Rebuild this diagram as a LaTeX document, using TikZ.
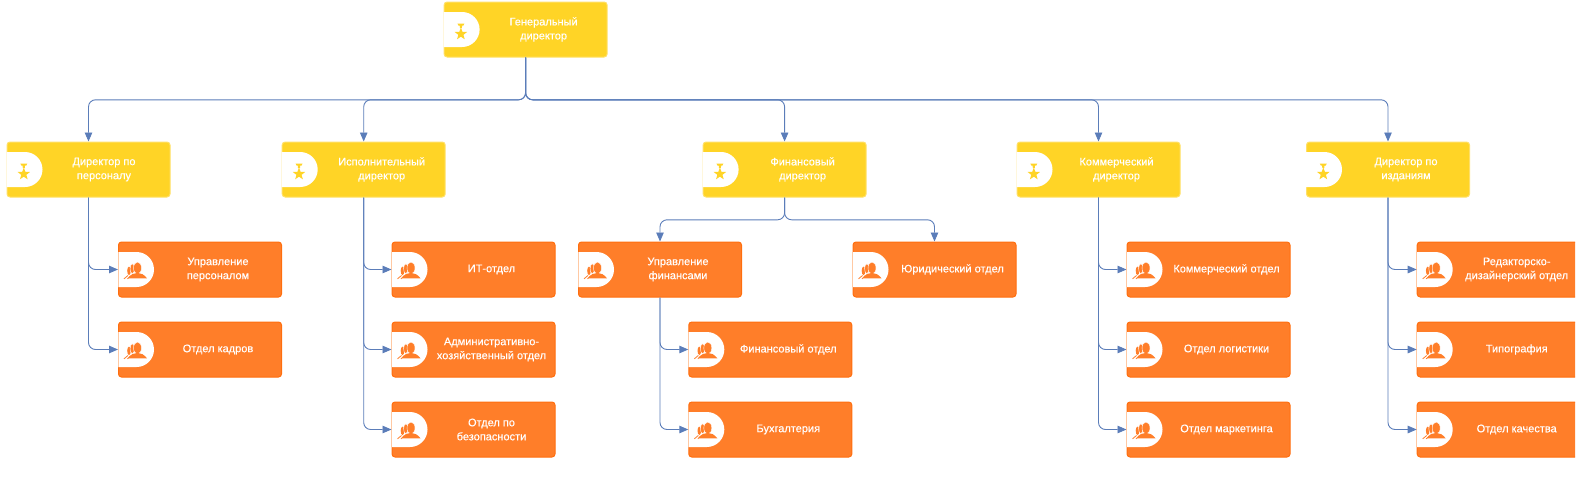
\documentclass[tikz,border=0pt]{standalone}
\usepackage{fontspec}
\setmainfont[FakeBold=0.22]{Liberation Sans}
\usetikzlibrary{arrows.meta}

\definecolor{gold}{HTML}{FFD426}
\definecolor{goldedge}{HTML}{FFE067}
\definecolor{tangerine}{HTML}{FF7E29}
\definecolor{tangerineedge}{HTML}{FF6E0E}
\definecolor{peach}{HTML}{FFC9A3}
\definecolor{linkblue}{HTML}{5B7DB9}

\newcommand{\lbl}[2][36pt]{\hspace{#1}\parbox{127pt}{\centering #2}}

\tikzset{
  card/.style={rectangle,rounded corners=3pt,minimum width=163pt,minimum height=55pt,inner sep=0pt,
    text=white,font=\fontsize{11}{14}\selectfont,line width=1pt},
  head/.style={card,fill=gold,draw=goldedge},
  dept/.style={card,fill=tangerine,draw=tangerineedge},
  link/.style={draw=linkblue,line width=0.9pt,rounded corners=7pt,-{Triangle[length=9pt,width=7.5pt]}},
  medal/.pic={
    \fill[gold] (-3.5,-10.5) -- (3.5,-10.5) -- (2.5,-8.5) -- (1.2,-8.5) -- (1,-6) -- (-1,-6) -- (-1.2,-8.5) -- (-2.5,-8.5) -- cycle;
    \fill[gold] (90:6.5pt) -- (126:2.7pt) -- (162:6.5pt) -- (198:2.7pt) -- (234:6.5pt) -- (270:2.7pt)
      -- (306:6.5pt) -- (342:2.7pt) -- (18:6.5pt) -- (54:2.7pt) -- cycle;
  },
  people/.pic={
    \fill[tangerine] (11,1.3) ellipse (1.8 and 4.2);
    \filldraw[fill=tangerine,draw=white,line width=0.4pt] (14.3,-0.8) ellipse (2.2 and 4.9);
    \filldraw[fill=tangerine,draw=white,line width=0.4pt] (19.5,-1.5) ellipse (4 and 6);
    \fill[tangerine] (10,8.8) .. controls (13,4.5) and (16,3.4) .. (19.5,3.4) .. controls (23,3.4) and (26,5) .. (29,8.8) -- cycle;
    \draw[tangerine,line width=0.8pt] (6,9.3) -- (10,6) (9.5,9.3) -- (12.5,6.5);
  }
}

\begin{document}
\begin{tikzpicture}[x=1pt,y=-1pt]
  \path[use as bounding box] (0,0) rectangle (1578,477);
  \clip (0,0) rectangle (1575,477);

  % directors
  \node[head] (gendir) at (525.6,29.5) {\lbl{Генеральный\\директор}};
  \node[head] (dirhr) at (88.5,169.5) {\lbl[31pt]{Директор по\\персоналу}};
  \node[head] (direxec) at (363.7,169.5) {\lbl{Исполнительный\\директор}};
  \node[head] (dirfin) at (784.6,169.5) {\lbl{Финансовый\\директор}};
  \node[head] (dircom) at (1098.5,169.5) {\lbl{Коммерческий\\директор}};
  \node[head] (dirpub) at (1388,169.5) {\lbl{Директор по\\изданиям}};

  % departments
  \node[dept] (hrmgmt) at (200,269.5) {\lbl{Управление\\персоналом}};
  \node[dept] (hrstaff) at (200,349.5) {\lbl{Отдел кадров}};
  \node[dept] (itdept) at (473.5,269.5) {\lbl{ИТ-отдел}};
  \node[dept] (admin) at (473.5,349.5) {\lbl{Административно-\\хозяйственный отдел}};
  \node[dept] (safety) at (473.5,429.5) {\lbl{Отдел по\\безопасности}};
  \node[dept] (finmgmt) at (660,269.5) {\lbl{Управление\\финансами}};
  \node[dept] (legal) at (934.5,269.5) {\lbl{Юридический отдел}};
  \node[dept] (findept) at (770.3,349.5) {\lbl{Финансовый отдел}};
  \node[dept] (account) at (770.3,429.5) {\lbl{Бухгалтерия}};
  \node[dept] (comdept) at (1208.5,269.5) {\lbl{Коммерческий отдел}};
  \node[dept] (logist) at (1208.5,349.5) {\lbl{Отдел логистики}};
  \node[dept] (market) at (1208.5,429.5) {\lbl{Отдел маркетинга}};
  \node[dept] (editor) at (1498.7,269.5) {\lbl{Редакторско-\\дизайнерский отдел}};
  \node[dept] (print) at (1498.7,349.5) {\lbl{Типография}};
  \node[dept] (quality) at (1498.7,429.5) {\lbl{Отдел качества}};

  % tabs and icons
  \foreach \n in {gendir,dirhr,direxec,dirfin,dircom,dirpub} {
    \fill[white] (\n.west) ++(0,-17.5) -- ++(18.5,0) arc[start angle=90,end angle=-90,radius=17.5pt] -- ++(-18.5,0) -- cycle;
    \path (\n.west) ++(17.3,4.5) pic {medal};
  }
  \foreach \n in {hrmgmt,hrstaff,itdept,admin,safety,finmgmt,legal,findept,account,comdept,logist,market,editor,print,quality} {
    \fill[white] (\n.west) ++(0,-17.5) -- ++(18.5,0) arc[start angle=90,end angle=-90,radius=17.5pt] -- ++(-18.5,0) -- cycle;
    \draw[peach,line width=0.8pt] (\n.west) ++(0,-17.5) -- ++(0,35);
    \path (\n.west) pic {people};
  }

  % connectors
  \foreach \n in {dirhr,direxec,dirfin,dircom,dirpub}
    \draw[link] (gendir.south) -- ++(0,42.3) -| (\n.north);
  \foreach \n in {finmgmt,legal}
    \draw[link] (dirfin.south) -- ++(0,22.3) -| (\n.north);
  \foreach \n in {hrmgmt,hrstaff}
    \draw[link] (dirhr.south) |- (\n.west);
  \foreach \n in {itdept,admin,safety}
    \draw[link] (direxec.south) |- (\n.west);
  \foreach \n in {findept,account}
    \draw[link] (finmgmt.south) |- (\n.west);
  \foreach \n in {comdept,logist,market}
    \draw[link] (dircom.south) |- (\n.west);
  \foreach \n in {editor,print,quality}
    \draw[link] (dirpub.south) |- (\n.west);
\end{tikzpicture}
\end{document}
